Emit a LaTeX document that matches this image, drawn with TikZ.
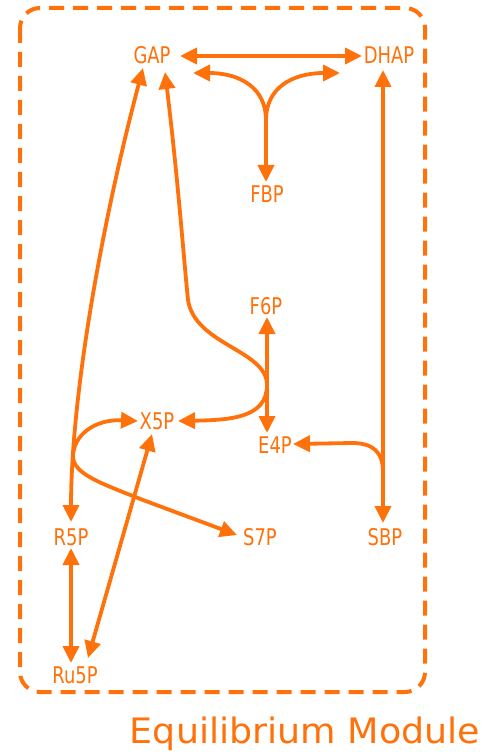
\documentclass[tikz,border=0pt]{standalone}
\usepackage{fontspec}
\setmainfont{DejaVu Sans}
\newfontfamily\labfont[FakeStretch=0.78]{DejaVu Sans}
\newfontfamily\titlefont[FakeStretch=1.04]{DejaVu Sans}
\usetikzlibrary{arrows.meta,calc}
\definecolor{org}{RGB}{255,113,10}
\begin{document}
\begin{tikzpicture}[x=1pt,y=-1pt,
  >={Triangle[length=17pt,width=16pt]},
  lab/.style={font=\labfont\fontsize{23}{23}\selectfont, text=org, inner sep=0pt, anchor=base},
  conn/.style={draw=org, line width=3.8pt},
  modbox/.style={draw=org, line width=4pt, dash pattern=on 15pt off 9pt, rounded corners=20pt}]
\useasboundingbox (0,0) rectangle (486,754);
\draw[modbox] (20,8) rectangle (425,692);
% labels
\node[lab] (GAP) at (152,64) {GAP};
\node[lab] (DHAP) at (389,64) {DHAP};
\node[lab] (FBP) at (267,202) {FBP};
\node[lab] (F6P) at (266,314) {F6P};
\node[lab] (X5P) at (157,429) {X5P};
\node[lab] (E4P) at (275,453) {E4P};
\node[lab] (R5P) at (71,545) {R5P};
\node[lab] (S7P) at (260,545) {S7P};
\node[lab] (SBP) at (385,545) {SBP};
\node[lab] (Ru5P) at (75,683) {Ru5P};
\node[font=\titlefont\fontsize{35}{35}\selectfont, text=org, inner sep=0pt, anchor=base] (title) at (305,743) {Equilibrium Module};
% GAP <-> DHAP
\draw[conn,<->] ($(GAP.base)+(28,-8)$) -- ($(DHAP.base)+(-27,-8)$);
% fork to FBP
\coordinate (fork) at (266,120);
\draw[conn,<-] ($(GAP.base)+(41,9)$) .. controls (240,73) and (266,88) .. (fork);
\draw[conn,<-] ($(DHAP.base)+(-49,9)$) .. controls (292,73) and (266,88) .. (fork);
\draw[conn,->] (fork) -- ($(FBP.base)+(-1,-20)$);
% DHAP <-> SBP and branch to E4P
\draw[conn,<->] ($(DHAP.base)+(-6,6)$) -- ($(SBP.base)+(-2,-22)$);
\coordinate (sbpb) at (383,472);
\draw[conn,->] (sbpb) .. controls (383,452) and (373,443) .. (352,443) -- ($(E4P.base)+(18,-9)$);
% GAP <-> R5P
\draw[conn,<->] ($(GAP.base)+(-9,4)$) .. controls (100,230) and (71,400) .. ($(R5P.base)+(0,-23)$);
% GAP <-> X5P
\draw[conn,<->] ($(GAP.base)+(13,8)$) .. controls (178,180) and (183,250) .. (188,300)
   .. controls (195,345) and (267,350) .. (267,385)
   .. controls (267,418) and (230,420) .. ($(X5P.base)+(21,-8)$);
% X5P <-> S7P
\draw[conn,<->] ($(X5P.base)+(-19,-8)$) .. controls (95,419) and (73,435) .. (73,457)
   .. controls (74,474) and (100,483) .. (143,500) -- ($(S7P.base)+(-23,-10)$);
% F6P <-> E4P
\draw[conn,<->] ($(F6P.base)+(1,3)$) -- ($(E4P.base)+(-8,-20)$);
% X5P <-> Ru5P
\draw[conn,<->] ($(X5P.base)+(-5,5)$) -- ($(Ru5P.base)+(13,-25)$);
% R5P <-> Ru5P
\draw[conn,<->] ($(R5P.base)+(0,3)$) -- ($(Ru5P.base)+(-4,-20)$);
\end{tikzpicture}
\end{document}
